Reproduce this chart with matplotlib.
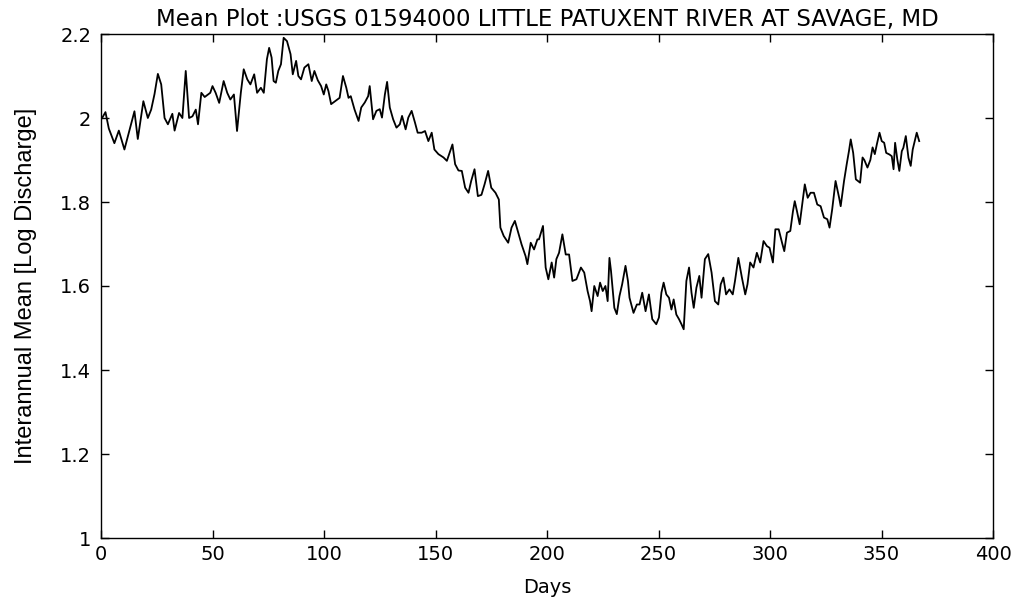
import matplotlib
matplotlib.use("Agg")
import matplotlib.pyplot as plt
from matplotlib import font_manager

# Interannual mean of log discharge by day of year
days = [
    0.5, 2, 3.5, 6, 8, 10.5, 13, 15, 16.5, 19, 21, 22.5, 24, 25.5, 27, 28.5, 30, 32, 33, 35,
    36.5, 38, 39.5, 41, 42.5, 43.5, 45, 46.5, 49, 50, 51.4, 53, 55, 56.6, 58, 59.6, 61, 62.7,
    64, 65.6, 67, 68.7, 70, 71.7, 73, 74.4, 75.4, 76.5, 77.4, 78.4, 79.5, 80.7, 81.9, 83.4,
    85, 86, 87.5, 88.5, 89.7, 91.2, 93, 94.5, 95.7, 97.2, 98.7, 99.9, 101, 102, 103.2, 105,
    107, 108.5, 110, 111, 112, 113.7, 115.5, 116.7, 118.3, 119.8, 120.5, 122, 123.5, 125,
    126, 127.3, 128.3, 129.5, 131, 132.5, 134, 135, 136.6, 137.8, 139.3, 140.8, 142, 143.8,
    145.3, 146.8, 148.3, 149.5, 151.3, 153.6, 155.1, 156.6, 157.6, 158.8, 160.3, 161.8,
    163.3, 164.8, 166, 167.5, 169, 170.6, 172, 173.6, 175, 176.9, 178.4, 179.1, 180.6,
    182.6, 184.1, 185.6, 187.1, 188.6, 190.4, 191.2, 192.7, 194.2, 195.7, 196.4, 198.2,
    199.4, 200.6, 202.1, 203.2, 204.2, 205.4, 206.9, 208.4, 209.9, 211.4, 213.2, 215.2,
    216.7, 218.2, 219.3, 220, 221.2, 222.7, 223.8, 225, 226.2, 227.2, 228, 228.7, 230.2,
    231.3, 232.5, 233.7, 235.2, 236.3, 237, 238.8, 240.3, 241.5, 242.7, 244.2, 245.7,
    247.2, 249, 250.2, 251.3, 252.3, 253.5, 254.7, 255.8, 256.8, 258, 259.2, 260.3, 261.3,
    262.5, 263.7, 264.8, 265.8, 267, 268.3, 269.3, 270.8, 272.3, 273.8, 275.3, 276.8,
    277.9, 279.1, 280.3, 281.8, 283.3, 284.3, 285.8, 287.4, 288.9, 289.9, 291.1, 292.6,
    294.1, 295.6, 297.1, 298.6, 299.8, 301.3, 302.4, 303.9, 305.4, 306.4, 307.6, 309.1,
    310.3, 311.1, 312.1, 313.3, 314.8, 315.6, 316.9, 318.2, 319.7, 321.2, 322.7, 324.2,
    325.7, 326.7, 327.9, 329.4, 331, 331.7, 333.2, 334.4, 335.4, 336.2, 337.3, 338.5,
    340.4, 341.5, 342.3, 343.7, 345, 346, 347, 347.9, 349.1, 350.1, 351.2, 352.1, 353.6,
    354.6, 355.4, 356.1, 357.1, 358, 359.1, 359.8, 360.9, 362.1, 363.1, 364, 365.1, 365.8,
    366.9,
]
log_mean = [
    2.0, 2.014, 1.975, 1.94, 1.97, 1.925, 1.976, 2.016, 1.95, 2.04, 2.0, 2.02, 2.057, 2.105,
    2.08, 2.0, 1.985, 2.01, 1.97, 2.012, 2.0, 2.112, 2.0, 2.004, 2.02, 1.985, 2.06, 2.05,
    2.06, 2.076, 2.06, 2.036, 2.088, 2.06, 2.044, 2.056, 1.969, 2.06, 2.116, 2.092, 2.08,
    2.104, 2.06, 2.072, 2.06, 2.14, 2.167, 2.144, 2.088, 2.084, 2.112, 2.128, 2.191, 2.183,
    2.152, 2.104, 2.136, 2.1, 2.092, 2.12, 2.128, 2.088, 2.112, 2.09, 2.076, 2.056, 2.08,
    2.064, 2.033, 2.04, 2.048, 2.1, 2.072, 2.048, 2.052, 2.02, 1.993, 2.025, 2.037, 2.052,
    2.076, 1.997, 2.017, 2.021, 2.001, 2.056, 2.086, 2.025, 1.997, 1.977, 1.985, 2.005,
    1.973, 2.001, 2.017, 1.989, 1.965, 1.965, 1.969, 1.945, 1.965, 1.925, 1.914, 1.906,
    1.898, 1.921, 1.937, 1.89, 1.875, 1.874, 1.834, 1.822, 1.85, 1.878, 1.814, 1.817,
    1.842, 1.874, 1.834, 1.822, 1.806, 1.739, 1.719, 1.703, 1.739, 1.755, 1.727, 1.699,
    1.671, 1.652, 1.703, 1.687, 1.711, 1.711, 1.743, 1.644, 1.616, 1.656, 1.62, 1.664,
    1.679, 1.723, 1.675, 1.675, 1.612, 1.616, 1.644, 1.632, 1.588, 1.564, 1.54, 1.6, 1.576,
    1.608, 1.588, 1.6, 1.564, 1.667, 1.636, 1.548, 1.533, 1.576, 1.604, 1.648, 1.612,
    1.572, 1.536, 1.556, 1.556, 1.584, 1.54, 1.58, 1.521, 1.509, 1.525, 1.584, 1.608, 1.58,
    1.572, 1.544, 1.568, 1.532, 1.521, 1.509, 1.497, 1.612, 1.644, 1.584, 1.548, 1.596,
    1.624, 1.572, 1.664, 1.676, 1.632, 1.564, 1.556, 1.604, 1.62, 1.58, 1.592, 1.58, 1.612,
    1.667, 1.62, 1.58, 1.604, 1.656, 1.644, 1.679, 1.656, 1.707, 1.695, 1.691, 1.656,
    1.735, 1.735, 1.703, 1.683, 1.727, 1.731, 1.778, 1.802, 1.778, 1.747, 1.81, 1.842,
    1.81, 1.822, 1.822, 1.794, 1.79, 1.763, 1.759, 1.739, 1.783, 1.85, 1.81, 1.79, 1.85,
    1.89, 1.921, 1.949, 1.917, 1.854, 1.846, 1.906, 1.9, 1.882, 1.9, 1.93, 1.914, 1.937,
    1.965, 1.945, 1.941, 1.917, 1.913, 1.909, 1.878, 1.941, 1.901, 1.874, 1.921, 1.929,
    1.957, 1.905, 1.886, 1.925, 1.949, 1.965, 1.945,
]

x_ticks = [0, 50, 100, 150, 200, 250, 300, 350, 400]
y_ticks = [1.0, 1.2, 1.4, 1.6, 1.8, 2.0, 2.2]
y_tick_labels = ["1", "1.2", "1.4", "1.6", "1.8", "2", "2.2"]

title_text = "Mean Plot :USGS 01594000 LITTLE PATUXENT RIVER AT SAVAGE, MD"

installed = {f.name for f in font_manager.fontManager.ttflist}
label_font = "Liberation Sans" if "Liberation Sans" in installed else "DejaVu Sans"
plt.rcParams["font.family"] = ["DejaVu Sans"]

fig = plt.figure(figsize=(10.19, 6.05), dpi=100)
ax = fig.add_axes([101 / 1019, 1 - 538 / 605, (993 - 101) / 1019, (538 - 34) / 605])

ax.plot(days, log_mean, color="black", linewidth=1.3)

ax.set_xlim(0, 400)
ax.set_ylim(1.0, 2.2)
ax.set_xticks(x_ticks)
ax.set_yticks(y_ticks)
ax.set_yticklabels(y_tick_labels)
ax.tick_params(direction="in", length=6, width=1, top=True, right=True,
               labelsize=14, colors="black")
ax.tick_params(axis="x", pad=5)
ax.tick_params(axis="y", pad=7)
for s in ax.spines.values():
    s.set_linewidth(1.0)
    s.set_color("black")

ax.set_title(title_text, fontsize=16.5, pad=6)
ax.set_xlabel("Days", fontsize=14, labelpad=10)
ax.set_ylabel("Interannual Mean [Log Discharge]", fontsize=17,
              family=[label_font, "DejaVu Sans"], labelpad=17)

fig.savefig("out.png", dpi=100)
